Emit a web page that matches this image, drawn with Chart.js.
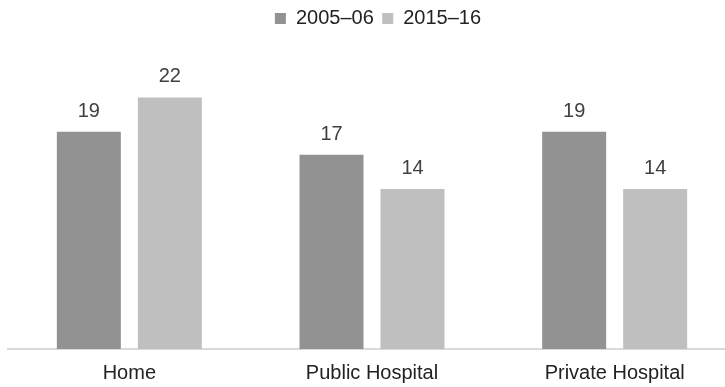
<!DOCTYPE html>
<html>
<head>
<meta charset="utf-8">
<script src="https://cdn.jsdelivr.net/npm/chart.js@4"></script>
<style>
  html, body { margin: 0; padding: 0; background: #fff; overflow: hidden; }
  #wrap { width: 736px; height: 399px; }
</style>
</head>
<body>
<div id="wrap"><canvas id="chart"></canvas></div>
<script>
const categories = ["Home", "Public Hospital", "Private Hospital"];
const seriesNames = ["2005–06", "2015–16"];
const values2005 = [19, 17, 19];
const values2015 = [22, 14, 14];

const FONT = "'Liberation Sans', Arial, sans-serif";

// draws the value above each bar
const barLabels = {
  id: "barLabels",
  afterDatasetsDraw(chart) {
    const ctx = chart.ctx;
    ctx.save();
    ctx.font = "20px " + FONT;
    ctx.fillStyle = "#404040";
    ctx.textAlign = "center";
    ctx.textBaseline = "alphabetic";
    chart.data.datasets.forEach((ds, i) => {
      chart.getDatasetMeta(i).data.forEach((bar, j) => {
        ctx.fillText(ds.data[j], bar.x, bar.y - 15);
      });
    });
    ctx.restore();
  },
};

// extra room under the legend, and nudge it a bit to the right
const legendSpace = {
  id: "legendSpace",
  beforeInit(chart) {
    const fit = chart.legend.fit;
    chart.legend.fit = function () {
      fit.bind(chart.legend)();
      this.height += 24.7;
    };
  },
  afterLayout(chart) {
    chart.legend.left += 12;
  },
};

new Chart(document.getElementById("chart"), {
  type: "bar",
  data: {
    labels: categories,
    datasets: [
      {
        label: seriesNames[0],
        data: values2005,
        backgroundColor: "#929292",
      },
      {
        label: seriesNames[1],
        data: values2015,
        backgroundColor: "#bfbfbf",
      },
    ],
  },
  options: {
    responsive: true,
    maintainAspectRatio: false,
    animation: false,
    categoryPercentage: 0.6676,
    barPercentage: 0.79,
    layout: {
      padding: { left: 8, right: 0, top: 0, bottom: 2 },
    },
    plugins: {
      tooltip: { enabled: false },
      legend: {
        position: "top",
        labels: {
          boxWidth: 11,
          boxHeight: 11,
          padding: 8.5,
          color: "#222",
          font: { family: FONT, size: 20 },
        },
      },
    },
    scales: {
      x: {
        grid: { display: false, drawTicks: false },
        border: { color: "#d9d9d9", width: 2 },
        ticks: {
          color: "#222",
          padding: 12,
          font: { family: FONT, size: 20 },
        },
      },
      y: {
        display: false,
        min: 0,
        max: 25,
      },
    },
  },
  plugins: [barLabels, legendSpace],
});
</script>
</body>
</html>
